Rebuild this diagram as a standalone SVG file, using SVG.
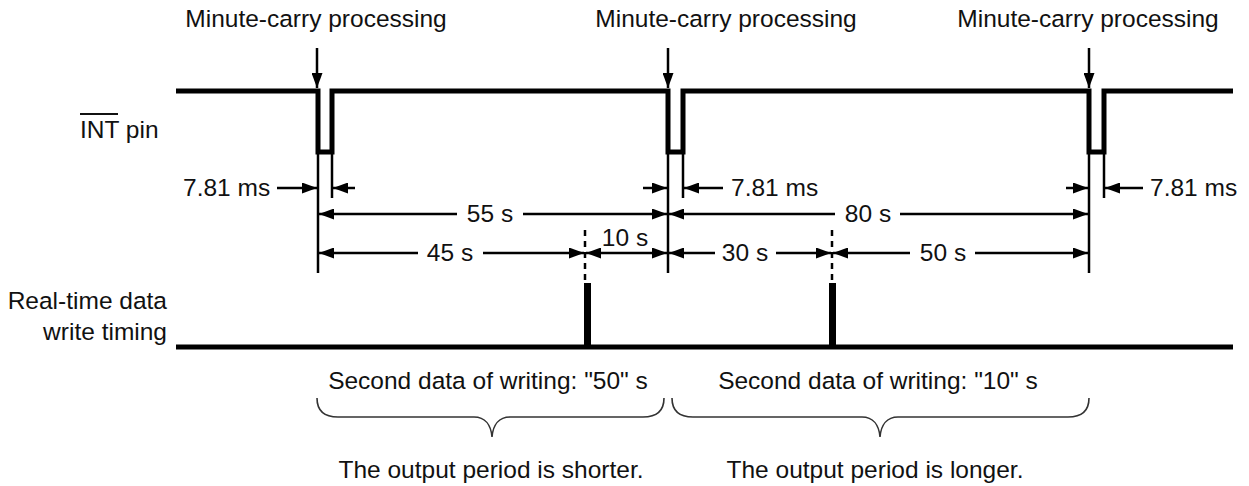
<svg xmlns="http://www.w3.org/2000/svg" width="1249" height="486" viewBox="0 0 1249 486">
<style>
text{font-family:"Liberation Sans",Arial,sans-serif;font-size:24.5px;fill:#111}
.mid{text-anchor:middle}
.end{text-anchor:end}
.wave{fill:none;stroke:#000;stroke-width:5;stroke-linejoin:miter}
.thin{stroke:#000;stroke-width:2.5;fill:none}
.dim{stroke:#000;stroke-width:2.5;fill:none;marker-end:url(#ah)}
.dash{stroke:#000;stroke-width:2.5;stroke-dasharray:6,5}
.brace{fill:none;stroke:#333;stroke-width:1.6}
</style>
<defs>
<marker id="ah" markerUnits="userSpaceOnUse" markerWidth="15" markerHeight="11" refX="15" refY="5.5" orient="auto">
<path d="M0,0 L15,5.5 L0,11 z" fill="#000"/>
</marker>
</defs>
<rect width="1249" height="486" fill="#fff"/>

<g id="label-carry1"><text class="mid" x="316" y="27">Minute-carry processing</text></g>
<g id="label-carry2"><text class="mid" x="726" y="27">Minute-carry processing</text></g>
<g id="label-carry3"><text class="mid" x="1088" y="27">Minute-carry processing</text></g>

<g id="label-int">
<text x="80" y="138">INT pin</text>
<line x1="80" y1="114" x2="118" y2="114" stroke="#111" stroke-width="2"/>
</g>
<g id="label-write">
<text class="end" x="167" y="309">Real-time data</text>
<text class="end" x="167" y="340">write timing</text>
</g>

<g id="int-waveform">
<path class="wave" d="M176,91 H318 V152 H332 V91 H668 V152 H683 V91 H1089 V152 H1104 V91 H1233"/>
</g>

<g id="write-waveform">
<path class="wave" d="M176,347 H1233" stroke-width="4"/>
<rect x="584" y="283" width="7" height="64" fill="#000"/>
<rect x="829" y="283" width="7" height="64" fill="#000"/>
</g>

<g id="connectors">
<line class="dim" x1="317" y1="48" x2="317" y2="88"/>
<line class="dim" x1="668" y1="48" x2="668" y2="88"/>
<line class="dim" x1="1089" y1="48" x2="1089" y2="88"/>
<line class="thin" x1="318" y1="152" x2="318" y2="273"/>
<line class="thin" x1="332" y1="152" x2="332" y2="198"/>
<line class="thin" x1="668" y1="152" x2="668" y2="273"/>
<line class="thin" x1="683" y1="152" x2="683" y2="198"/>
<line class="thin" x1="1089" y1="152" x2="1089" y2="273"/>
<line class="thin" x1="1104" y1="152" x2="1104" y2="198"/>
<line class="dash" x1="585" y1="230" x2="585" y2="283"/>
<line class="dash" x1="832" y1="230" x2="832" y2="283"/>
<line class="dim" x1="277" y1="188" x2="317" y2="188"/>
<line class="dim" x1="355" y1="188" x2="333" y2="188"/>
<line class="dim" x1="643" y1="188" x2="667" y2="188"/>
<line class="dim" x1="723" y1="188" x2="684" y2="188"/>
<line class="dim" x1="1066" y1="188" x2="1088" y2="188"/>
<line class="dim" x1="1143" y1="188" x2="1105" y2="188"/>
<line class="dim" x1="457" y1="214" x2="319" y2="214"/>
<line class="dim" x1="523" y1="214" x2="667" y2="214"/>
<line class="dim" x1="835" y1="214" x2="669" y2="214"/>
<line class="dim" x1="900" y1="214" x2="1088" y2="214"/>
<line class="dim" x1="418" y1="253" x2="319" y2="253"/>
<line class="dim" x1="483" y1="253" x2="584" y2="253"/>
<line class="dim" x1="626" y1="253" x2="586" y2="253"/>
<line class="dim" x1="626" y1="253" x2="667" y2="253"/>
<line class="dim" x1="715" y1="253" x2="669" y2="253"/>
<line class="dim" x1="776" y1="253" x2="831" y2="253"/>
<line class="dim" x1="910" y1="253" x2="833" y2="253"/>
<line class="dim" x1="975" y1="253" x2="1088" y2="253"/>
</g>

<g id="dim-labels">
<text x="183" y="196">7.81 ms</text>
<text x="731" y="196">7.81 ms</text>
<text x="1150" y="196">7.81 ms</text>
<text class="mid" x="490" y="222">55 s</text>
<text class="mid" x="868" y="222">80 s</text>
<text class="mid" x="450" y="261">45 s</text>
<text class="mid" x="625" y="246">10 s</text>
<text class="mid" x="745" y="261">30 s</text>
<text class="mid" x="943" y="261">50 s</text>
</g>

<g id="brace-left">
<text class="mid" x="488" y="389">Second data of writing: "50" s</text>
<path class="brace" d="M317,398 C317,411 324,417 338,417 H474 C485,417 491,425 492,437 C493,425 499,417 510,417 H643 C657,417 664,411 664,398"/>
<text class="mid" x="491" y="478">The output period is shorter.</text>
</g>
<g id="brace-right">
<text class="mid" x="878" y="389">Second data of writing: "10" s</text>
<path class="brace" d="M672,398 C672,411 679,417 693,417 H862 C873,417 879,425 880,437 C881,425 887,417 898,417 H1068 C1082,417 1089,411 1089,398"/>
<text class="mid" x="875" y="478">The output period is longer.</text>
</g>
</svg>
